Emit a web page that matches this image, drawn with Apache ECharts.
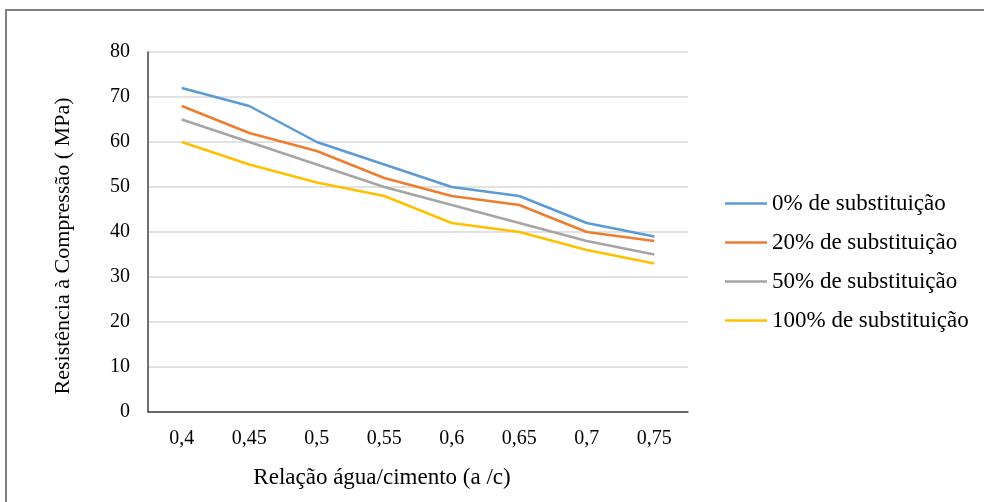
<!DOCTYPE html>
<html>
<head>
<meta charset="utf-8">
<script src="https://cdn.jsdelivr.net/npm/echarts@6/dist/echarts.min.js"></script>
<style>
  html, body { margin: 0; padding: 0; background: #fff; }
  #chart { width: 984px; height: 502px; }
</style>
</head>
<body>
<div id="chart"></div>
<script>
// water/cement ratios
const ratios = ['0,4', '0,45', '0,5', '0,55', '0,6', '0,65', '0,7', '0,75'];

// compressive strength (MPa) by replacement level
const sub0   = [72, 68, 60, 55, 50, 48, 42, 39];
const sub20  = [68, 62, 58, 52, 48, 46, 40, 38];
const sub50  = [65, 60, 55, 50, 46, 42, 38, 35];
const sub100 = [60, 55, 51, 48, 42, 40, 36, 33];

const seriesNames = [
  '0% de substituição',
  '20% de substituição',
  '50% de substituição',
  '100% de substituição'
];
const seriesData = [sub0, sub20, sub50, sub100];
const colors = ['#5B9BD5', '#ED7D31', '#A5A5A5', '#FFC000'];

const font = 'Liberation Serif, Times New Roman, serif';

const chart = echarts.init(document.getElementById('chart'));
chart.setOption({
  animation: false,
  backgroundColor: '#fff',
  color: colors,
  textStyle: { fontFamily: font, color: '#000' },
  graphic: [{
    type: 'rect',
    shape: { x: 6, y: 10, width: 1000, height: 520 },
    style: { fill: 'none', stroke: '#808080', lineWidth: 2 },
    silent: true
  }],
  grid: { left: 148, top: 52, width: 540, height: 360, containLabel: false },
  legend: {
    orient: 'vertical',
    left: 720,
    top: 187,
    icon: 'rect',
    itemWidth: 42,
    itemHeight: 2.5,
    itemGap: 16,
    textStyle: { fontFamily: font, fontSize: 23, color: '#000' },
    data: seriesNames
  },
  xAxis: {
    type: 'category',
    data: ratios,
    boundaryGap: true,
    name: 'Relação água/cimento (a /c)',
    nameLocation: 'middle',
    nameGap: 54,
    nameTextStyle: { fontFamily: font, fontSize: 23, color: '#000', padding: [0, 72, 0, 0] },
    axisLine: { lineStyle: { color: '#404040', width: 1.5 } },
    axisTick: { show: false },
    axisLabel: { fontFamily: font, fontSize: 20, color: '#000', margin: 17 },
    splitLine: { show: false }
  },
  yAxis: {
    type: 'value',
    min: 0,
    max: 80,
    interval: 10,
    name: 'Resistência à Compressão ( MPa)',
    nameLocation: 'middle',
    nameGap: 74,
    nameTextStyle: { fontFamily: font, fontSize: 22, color: '#000', padding: [0, 28, 0, 0] },
    axisLine: { show: true, lineStyle: { color: '#404040', width: 1.5 } },
    axisTick: { show: false },
    axisLabel: { fontFamily: font, fontSize: 20, color: '#000', margin: 18 },
    splitLine: { lineStyle: { color: '#d9d9d9', width: 1.5 } }
  },
  series: seriesNames.map((name, i) => ({
    name: name,
    type: 'line',
    data: seriesData[i],
    symbol: 'none',
    smooth: false,
    lineStyle: { width: 2.5, color: colors[i] },
    itemStyle: { color: colors[i] }
  }))
});
</script>
</body>
</html>
